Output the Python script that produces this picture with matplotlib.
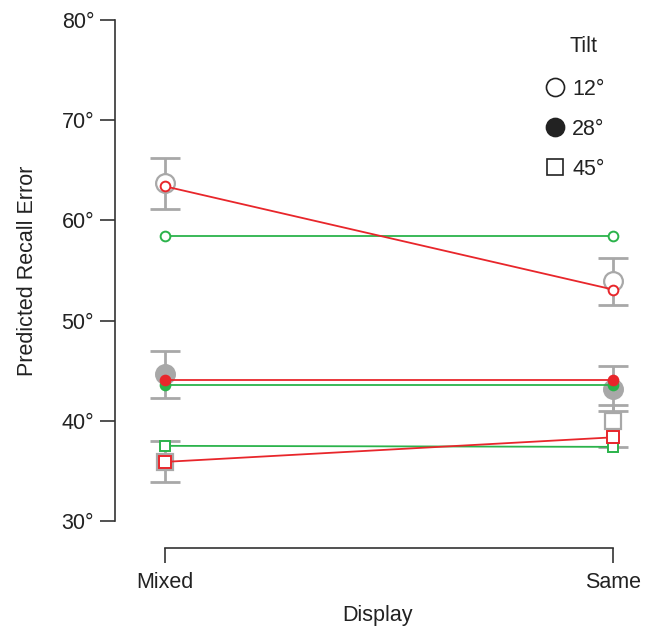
import matplotlib
matplotlib.use("Agg")
import matplotlib.pyplot as plt
from matplotlib.lines import Line2D
from matplotlib import font_manager

names = {f.name for f in font_manager.fontManager.ttflist}
fam = [f for f in ["Liberation Sans Narrow", "Liberation Sans", "DejaVu Sans"] if f in names]
plt.rcParams['font.family'] = fam

displays = ["Mixed", "Same"]
tilts = ["12°", "28°", "45°"]

# observed (gray) means and error bar bounds
obs_12 = [63.7, 54.0]
obs_12_hi = [66.2, 56.2]
obs_12_lo = [61.1, 51.6]
obs_28 = [44.7, 43.2]
obs_28_hi = [47.0, 45.5]
obs_28_lo = [42.3, 41.0]
obs_45 = [35.9, 40.0]
obs_45_hi = [38.0, 41.6]
obs_45_lo = [33.9, 37.4]

# model predictions
red_12 = [63.4, 53.1]
red_28 = [44.1, 44.1]
red_45 = [35.9, 38.35]
green_12 = [58.4, 58.4]
green_28 = [43.6, 43.6]
green_45 = [37.5, 37.4]

yticks = [30, 40, 50, 60, 70, 80]
ytick_labels = ["30°", "40°", "50°", "60°", "70°", "80°"]

GRAY = "#a8a8a8"
RED = "#e8262b"
GREEN = "#2bb34b"
INK = "#222222"

fig = plt.figure(figsize=(6.54, 6.28), dpi=100)
ax = fig.add_axes([115/654, (628-521)/628, 525/654, 501/628])
x = [0, 1]

obs = [(obs_12, obs_12_hi, obs_12_lo, 'o', 'white', 13.5),
       (obs_28, obs_28_hi, obs_28_lo, 'o', GRAY, 13.5),
       (obs_45, obs_45_hi, obs_45_lo, 's', 'white', 12)]
for m, hi, lo, mk, fc, ms in obs:
    err = [[mi - l for mi, l in zip(m, lo)], [h - mi for mi, h in zip(m, hi)]]
    ax.errorbar(x, m, yerr=err, fmt='none', ecolor=GRAY, elinewidth=2,
                capsize=11, capthick=2, zorder=1)
    ax.plot(x, m, linestyle='none', marker=mk, ms=ms, mfc=fc, mec=GRAY,
            mew=1.6, zorder=2)

for vals, mk, fc, ms in [(green_12, 'o', 'white', 7), (green_28, 'o', GREEN, 7),
                         (green_45, 's', 'white', 7.5)]:
    ax.plot(x, vals, color=GREEN, lw=1.3, marker=mk, ms=ms, mfc=fc, mec=GREEN,
            mew=1.4, zorder=3)
for vals, mk, fc, ms in [(red_12, 'o', 'white', 7), (red_28, 'o', RED, 7),
                         (red_45, 's', 'white', 8)]:
    ax.plot(x, vals, color=RED, lw=1.3, marker=mk, ms=ms, mfc=fc, mec=RED,
            mew=1.4, zorder=4)

ax.set_xlim(-50/448, 475/448)
ax.set_ylim(30, 80)
ax.set_yticks(yticks)
ax.set_yticklabels(ytick_labels)
ax.set_xticks(x)
ax.set_xticklabels(displays)
for s in ['top', 'right']:
    ax.spines[s].set_visible(False)
ax.spines['bottom'].set_position(('outward', 19.5))
ax.spines['bottom'].set_bounds(0, 1)
ax.spines['left'].set_bounds(30, 80)
for s in ['left', 'bottom']:
    ax.spines[s].set_color('#333333')
    ax.spines[s].set_linewidth(1.2)
ax.tick_params(axis='both', direction='out', length=11, width=1.2,
               color='#333333', labelsize=15.5, labelcolor=INK, pad=4)
ax.tick_params(axis='x', pad=6)
ax.set_ylabel("Predicted Recall Error", fontsize=15.5, color=INK, labelpad=17)
ax.set_xlabel("Display", fontsize=15.5, color=INK, labelpad=9)

handles = [Line2D([], [], ls='none', marker='o', ms=13, mfc='white', mec=INK, mew=1.2),
           Line2D([], [], ls='none', marker='o', ms=13, mfc=INK, mec=INK, mew=1.2),
           Line2D([], [], ls='none', marker='s', ms=12, mfc='white', mec=INK, mew=1.2)]
leg = ax.legend(handles, tilts, frameon=False, fontsize=15.5,
                loc='upper left',
                bbox_to_anchor=(542/654, 1 - 79/628), bbox_transform=fig.transFigure,
                handletextpad=0.2, labelspacing=0.88, handlelength=1.2,
                borderaxespad=0, borderpad=0)
for t in leg.get_texts():
    t.set_color(INK)
fig.text(583/654, 1 - 47/628, "Tilt", fontsize=15.5, color=INK,
         ha='center', va='center')

fig.savefig("out.png", dpi=100)
